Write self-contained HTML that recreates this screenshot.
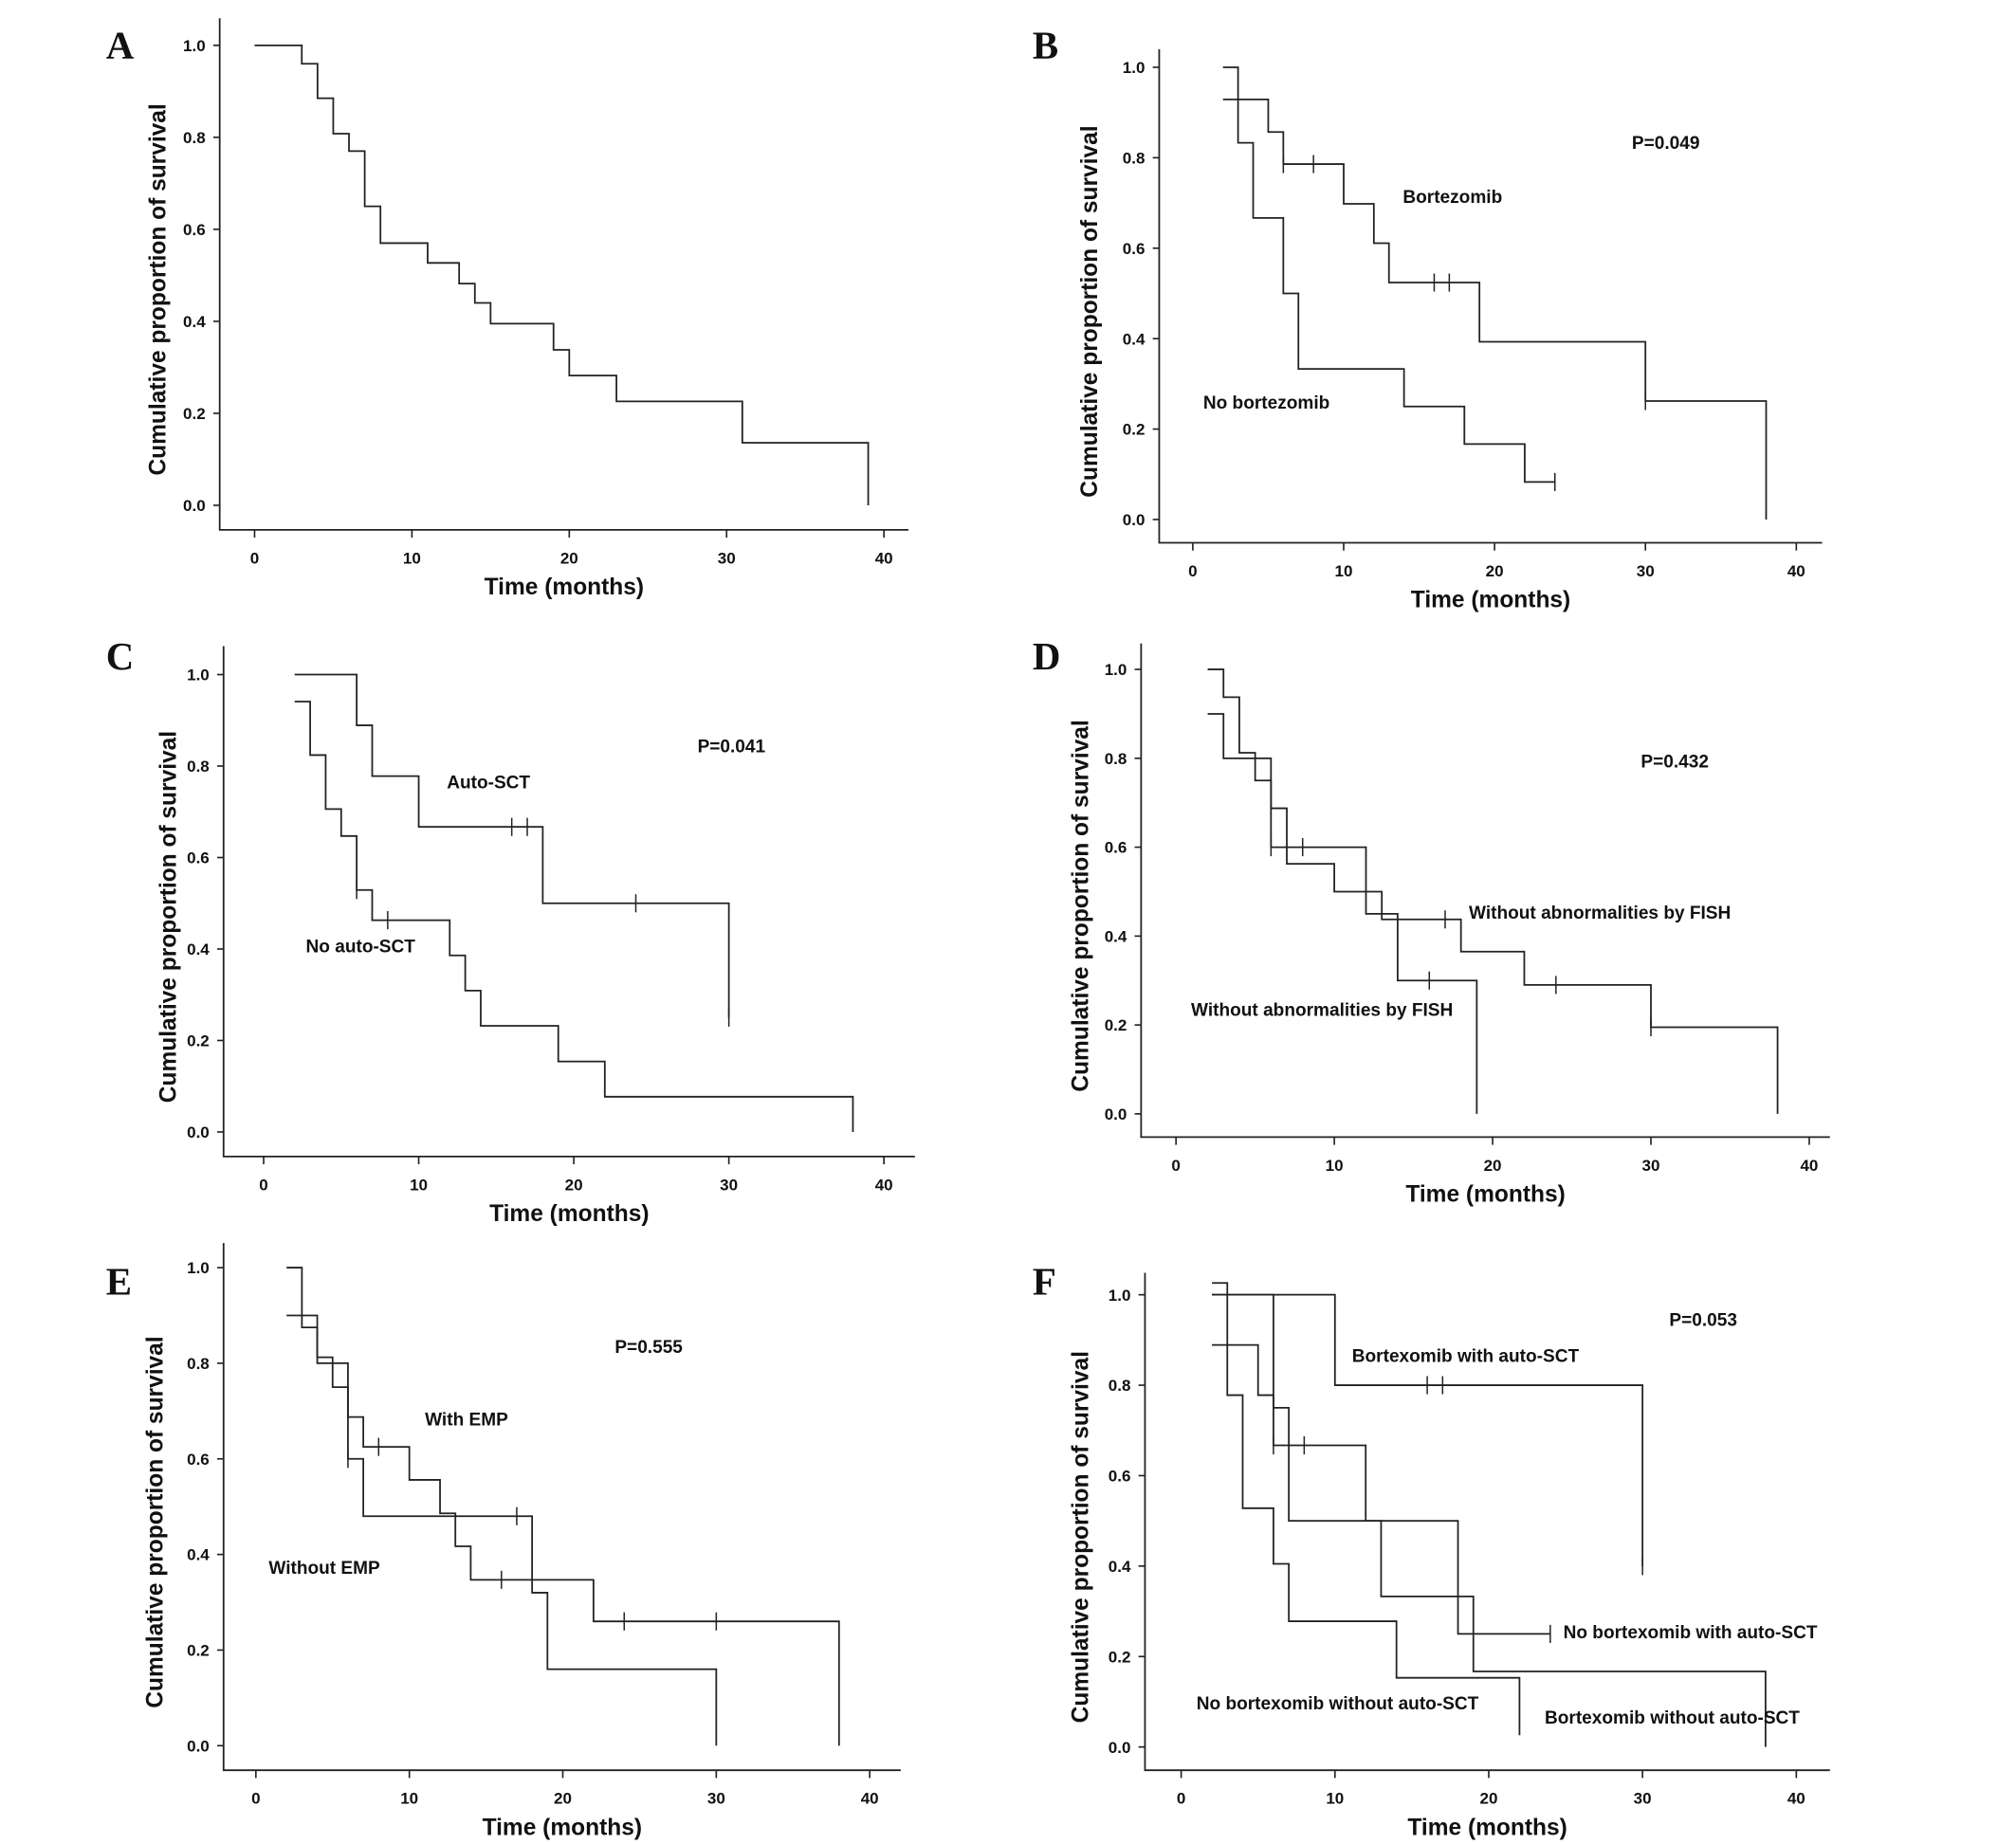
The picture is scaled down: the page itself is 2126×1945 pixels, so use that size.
<!DOCTYPE html>
<html><head><meta charset="utf-8"><style>
html,body{margin:0;padding:0;background:#fff;}
svg{display:block;}
text{font-family:"Liberation Sans",Arial,sans-serif;font-weight:bold;fill:#111;}
.tk{font-family:"Liberation Sans Narrow","Liberation Sans",sans-serif;font-size:12.5px;}
.ttl{font-size:18px;}
.lbl{font-size:14px;}
.let{font-family:"Liberation Serif",serif;font-size:30px;}
</style></head><body>
<svg id="fig" width="2126" height="1945" viewBox="0 0 1560 1427" xmlns="http://www.w3.org/2000/svg"></svg>
<script>
// ---- data (times in months, survival proportions) ----
const xTicks=[0,10,20,30,40];
const yTicks=[0.0,0.2,0.4,0.6,0.8,1.0];
const yTickLabels=["0.0","0.2","0.4","0.6","0.8","1.0"];
const xTickLabels=["0","10","20","30","40"];
const A_t=[0,3,4,5,6,7,8,11,13,14,15,19,20,23,31,39];
const A_s=[1,0.96,0.885,0.808,0.77,0.65,0.57,0.527,0.482,0.44,0.395,0.338,0.282,0.226,0.136,0];
const B1_t=[2,5,6,10,12,13,19,30,38];
const B1_s=[0.929,0.857,0.786,0.698,0.611,0.524,0.393,0.262,0];
const B1_c=[6,8,16,17,30];
const B2_t=[2,3,4,6,7,14,18,22,24];
const B2_s=[1,0.833,0.667,0.5,0.333,0.25,0.167,0.083,0.083];
const B2_c=[24];
const C1_t=[2,6,7,10,18,30];
const C1_s=[1,0.889,0.778,0.667,0.5,0.25];
const C1_c=[16,17,24,30];
const C2_t=[2,3,4,5,6,7,12,13,14,19,22,38];
const C2_s=[0.941,0.824,0.706,0.647,0.529,0.463,0.386,0.309,0.232,0.154,0.077,0];
const C2_c=[6,8];
const D1_t=[2,3,4,5,6,7,10,13,18,22,30,38];
const D1_s=[1,0.9375,0.8125,0.75,0.6875,0.5625,0.5,0.4375,0.365,0.29,0.195,0];
const D1_c=[17,24,30];
const D2_t=[2,3,6,12,14,19];
const D2_s=[0.9,0.8,0.6,0.45,0.3,0];
const D2_c=[6,8,16];
const E1_t=[2,3,4,5,6,7,10,12,13,14,22,38];
const E1_s=[1,0.875,0.8125,0.75,0.6875,0.625,0.556,0.486,0.417,0.347,0.26,0];
const E1_c=[8,16,24,30];
const E2_t=[2,4,6,7,18,19,30];
const E2_s=[0.9,0.8,0.6,0.48,0.32,0.16,0];
const E2_c=[6,17];
const F1_t=[2,10,30];
const F1_s=[1,0.8,0.4];
const F1_c=[16,17,30];
const F2_t=[2,3,4,6,7,14,22];
const F2_s=[1.026,0.778,0.528,0.405,0.278,0.153,0.026];
const F2_c=[];
const F3_t=[2,5,6,7,13,19,38];
const F3_s=[0.889,0.778,0.75,0.5,0.333,0.167,0];
const F3_c=[];
const F4_t=[2,6,12,18,24];
const F4_s=[1,0.667,0.5,0.25,0.25];
const F4_c=[6,8,24];

const NS="http://www.w3.org/2000/svg";
const svg=document.getElementById('fig');
function mk(tag,attrs,parent){const e=document.createElementNS(NS,tag);for(const k in attrs)e.setAttribute(k,attrs[k]);(parent||svg).appendChild(e);return e;}
function txt(parent,x,y,s,cls,anchor,name){const e=mk('text',{x:x,y:y,'class':cls,'text-anchor':anchor||'start'},parent);e.textContent=s;


return e;}

function panel(p){
  const g=mk('g',{});
  
  
  const X=v=>p.x0+(p.x40-p.x0)*v/40;
  const Y=v=>p.y0+(p.y1-p.y0)*v;
  const ax=mk('path',{d:`M${p.ax},${p.top}V${p.bot}H${p.right}`,stroke:'#222','stroke-width':1.3,fill:'none'},g);
  
  
  yTicks.forEach((v,i)=>{
    mk('line',{x1:p.ax-5,x2:p.ax,y1:Y(v),y2:Y(v),stroke:'#222','stroke-width':1.2},g);
    txt(g,p.ax-11,Y(v)+4.5,yTickLabels[i],'tk','end','y-tick-label');
  });
  xTicks.forEach((v,i)=>{
    mk('line',{x1:X(v),x2:X(v),y1:p.bot,y2:p.bot+6,stroke:'#222','stroke-width':1.2},g);
    txt(g,X(v),p.bot+26,xTickLabels[i],'tk','middle','x-tick-label');
  });
  txt(g,(p.ax+p.right)/2,p.bot+50,'Time (months)','ttl','middle','x-axis-title');
  const yt=txt(g,0,0,'Cumulative proportion of survival','ttl','middle','y-axis-title');
  yt.setAttribute('transform',`translate(${p.ytx},${(p.top+p.bot)/2+12}) rotate(-90)`);
  txt(g,p.lx,p.ly,p.id,'let','start','panel-letter');
  p.series.forEach((sr,k)=>{
    const t=sr[0],s=sr[1],c=sr[2];
    let d=`M${X(t[0])},${Y(s[0])}`;
    for(let i=1;i<t.length;i++){d+=`H${X(t[i])}V${Y(s[i])}`;}
    const pa=mk('path',{d:d,stroke:'#222','stroke-width':1.3,fill:'none'},g);
    
    
    (c||[]).forEach(ct=>{
      let lv=s[0];for(let i=0;i<t.length;i++){if(ct>=t[i])lv=s[i];}
      const cm=mk('line',{x1:X(ct),x2:X(ct),y1:Y(lv)-7,y2:Y(lv)+7,stroke:'#222','stroke-width':1.1},g);
      
      
    });
  });
  (p.labels||[]).forEach(l=>txt(g,l[0],l[1],l[2],'lbl',l[3]||'middle','series-label'));
}

panel({id:'A',ax:170,top:14,bot:410,right:703,x0:197,x40:684,y0:391,y1:35,ytx:128,lx:82,ly:45,
  series:[[A_t,A_s,[]]],labels:[]});
panel({id:'B',ax:897,top:38,bot:420,right:1410,x0:923,x40:1390,y0:402,y1:52,ytx:849,lx:799,ly:45,
  series:[[B1_t,B1_s,B1_c],[B2_t,B2_s,B2_c]],
  labels:[[1289,115,'P=0.049'],[1124,157,'Bortezomib'],[980,316,'No bortezomib']]});
panel({id:'C',ax:173,top:500,bot:895,right:708,x0:204,x40:684,y0:876,y1:522,ytx:136,lx:82,ly:518,
  series:[[C1_t,C1_s,C1_c],[C2_t,C2_s,C2_c]],
  labels:[[566,582,'P=0.041'],[378,610,'Auto-SCT'],[279,737,'No  auto-SCT']]});
panel({id:'D',ax:883,top:498,bot:880,right:1416,x0:910,x40:1400,y0:862,y1:518,ytx:842,lx:799,ly:518,
  series:[[D1_t,D1_s,D1_c],[D2_t,D2_s,D2_c]],
  labels:[[1296,594,'P=0.432'],[1238,711,'Without abnormalities by FISH'],[1023,786,'Without abnormalities by FISH']]});
panel({id:'E',ax:173,top:962,bot:1370,right:697,x0:198,x40:673,y0:1351,y1:981,ytx:126,lx:82,ly:1002,
  series:[[E1_t,E1_s,E1_c],[E2_t,E2_s,E2_c]],
  labels:[[502,1047,'P=0.555'],[361,1103,'With EMP'],[251,1218,'Without EMP']]});
panel({id:'F',ax:886,top:985,bot:1370,right:1416,x0:914,x40:1390,y0:1352,y1:1002,ytx:842,lx:799,ly:1002,
  series:[[F1_t,F1_s,F1_c],[F2_t,F2_s,F2_c],[F3_t,F3_s,F3_c],[F4_t,F4_s,F4_c]],
  labels:[[1318,1026,'P=0.053'],[1134,1054,'Bortexomib with auto-SCT'],[1308,1268,'No bortexomib with auto-SCT'],[1035,1323,'No bortexomib without auto-SCT'],[1294,1334,'Bortexomib without auto-SCT']]});
</script>
</body></html>
